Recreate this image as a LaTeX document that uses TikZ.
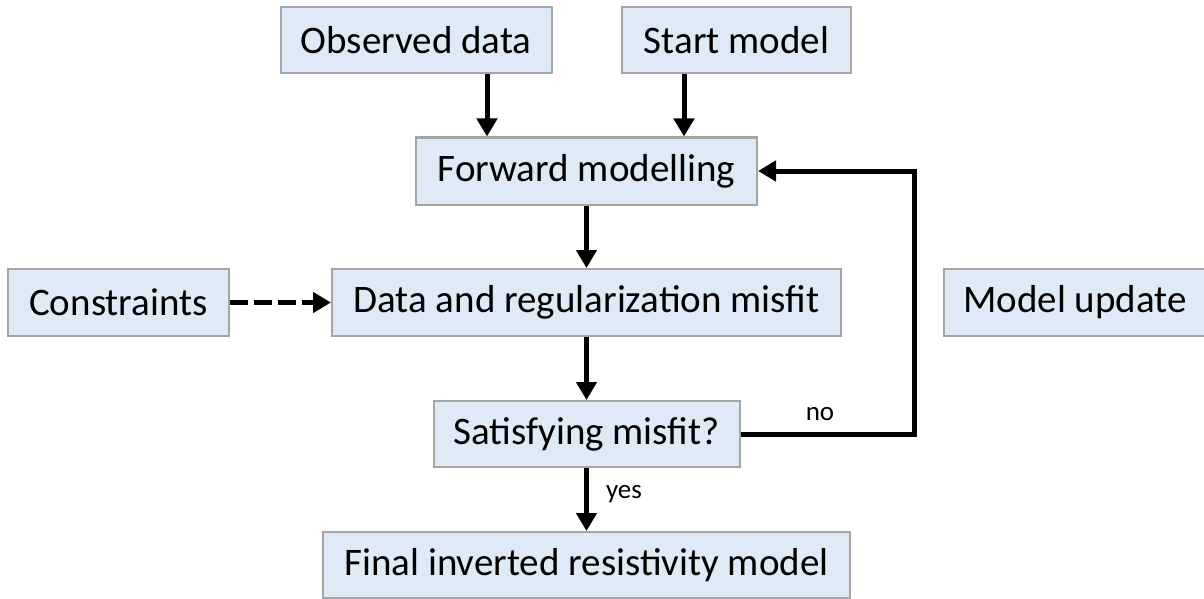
\documentclass[tikz,border=0pt]{standalone}
\usepackage{fontspec}
\setmainfont{Carlito}
\usetikzlibrary{arrows.meta}
\definecolor{boxfill}{HTML}{DEEAF6}
\definecolor{boxline}{HTML}{A5A5A5}
\begin{document}
\begin{tikzpicture}[x=0.5pt,y=-0.5pt,
  procbox/.style={draw=boxline, line width=1pt, fill=boxfill, inner sep=0pt,
    font=\fontsize{19.5}{23}\selectfont, anchor=center},
  flow/.style={line width=2.5pt, -{Triangle[length=9pt,width=10pt]}},
  dashflow/.style={flow, dash pattern=on 9pt off 3pt},
  tag/.style={font=\fontsize{13.5}{16}\selectfont, inner sep=0pt}]
\useasboundingbox (0,0) rectangle (1204,599);

\node[procbox, minimum width=271*0.5pt, minimum height=66*0.5pt] (obs) at (416,40) {Observed data};
\node[procbox, minimum width=229*0.5pt, minimum height=66*0.5pt] (start) at (736.5,40) {Start model};
\node[procbox, minimum width=341*0.5pt, minimum height=67*0.5pt] (fwd) at (586.5,171) {Forward modelling};
\node[procbox, minimum width=221*0.5pt, minimum height=67*0.5pt] (cons) at (118.5,302.5) {Constraints};
\node[procbox, minimum width=509*0.5pt, minimum height=67*0.5pt] (misfit) at (586.5,302.5) {Data and regularization misfit};
\node[procbox, minimum width=262*0.5pt, minimum height=67*0.5pt] (update) at (1075,302.5) {Model update};
\node[procbox, minimum width=306*0.5pt, minimum height=66*0.5pt] (sat) at (586.5,434) {Satisfying misfit?};
\node[procbox, minimum width=527*0.5pt, minimum height=66*0.5pt] (final) at (586.5,565) {Final inverted resistivity model};

\coordinate (obsx) at (487,0);
\coordinate (startx) at (684,0);
\coordinate (loopx) at (914,0);

\draw[flow] (obs.south -| obsx) -- (fwd.north -| obsx);
\draw[flow] (start.south -| startx) -- (fwd.north -| startx);
\draw[flow] (fwd.south) -- (misfit.north);
\draw[dashflow] (cons.east) -- (misfit.west);
\draw[flow] (misfit.south) -- (sat.north);
\draw[flow] (sat.south) -- (final.north);
\draw[flow] (sat.east) -- (sat.east -| loopx) -- (fwd.east -| loopx) -- (fwd.east);

\node[tag] (no) at (820,414) {no};
\node[tag] (yes) at (624,494) {yes};
\end{tikzpicture}
\end{document}
